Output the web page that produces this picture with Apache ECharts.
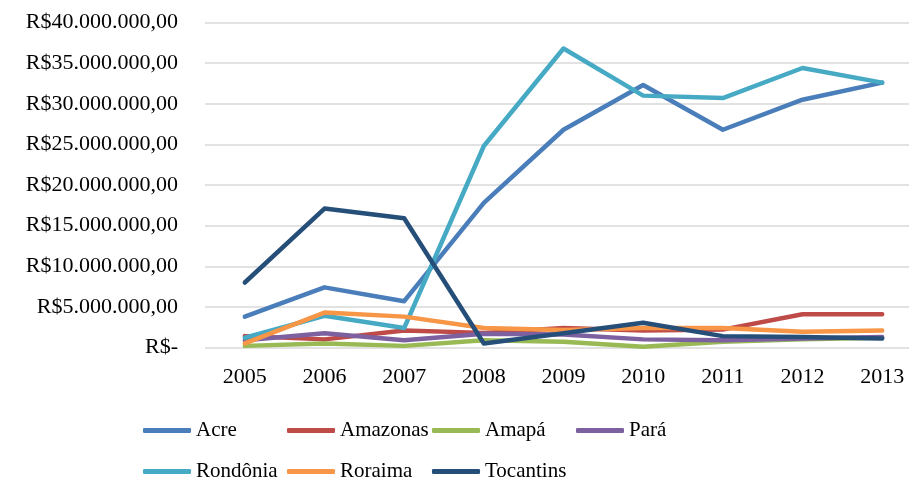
<!DOCTYPE html>
<html>
<head>
<meta charset="utf-8">
<script src="https://cdn.jsdelivr.net/npm/echarts@6/dist/echarts.min.js"></script>
<style>
html,body{margin:0;padding:0;background:#fff;overflow:hidden;}
#main{width:922px;height:479px;}
</style>
</head>
<body>
<div id="main"></div>
<script>
// anos
var years = ['2005','2006','2007','2008','2009','2010','2011','2012','2013'];
// valores em R$
var acre      = [3800000, 7400000, 5700000, 17800000, 26800000, 32300000, 26800000, 30500000, 32600000];
var amazonas  = [1400000, 1000000, 2100000, 1800000, 2400000, 2100000, 2200000, 4100000, 4100000];
var amapa     = [200000, 500000, 200000, 900000, 700000, 100000, 700000, 1000000, 1200000];
var para      = [900000, 1750000, 900000, 1700000, 1600000, 1000000, 900000, 1100000, 1300000];
var rondonia  = [1200000, 3900000, 2400000, 24800000, 36800000, 31000000, 30700000, 34400000, 32600000];
var roraima   = [500000, 4300000, 3800000, 2400000, 2150000, 2400000, 2400000, 1950000, 2100000];
var tocantins = [8000000, 17100000, 15900000, 500000, 1750000, 3050000, 1400000, 1300000, 1100000];

var names = ['Acre','Amazonas','Amapá','Pará','Rondônia','Roraima','Tocantins'];
var values = [acre, amazonas, amapa, para, rondonia, roraima, tocantins];
var colors = ['#4A7EBB','#BE4B48','#98B954','#7D60A0','#46AAC5','#F79646','#254E79'];

var font = '"Liberation Serif", "Times New Roman", serif';

function fmt(v){
    if(v===0) return 'R$-';
    var s = String(Math.round(v)).replace(/\B(?=(\d{3})+(?!\d))/g,'.');
    return 'R$' + s + ',00';
}

// posicoes da legenda
var legendPos = [[143,420],[287,420],[432,420],[576,420],[143,461],[287,461],[432,461]];
var legends = names.map(function(n,i){
    return {
        data:[n],
        left:legendPos[i][0],
        top:legendPos[i][1],
        padding:0,
        icon:'roundRect',
        itemWidth:48,
        itemHeight:5,
        itemGap:0,
        selectedMode:false,
        textStyle:{fontFamily:font,fontSize:21,color:'#000'}
    }
});

var myChart = echarts.init(document.getElementById('main'));
myChart.setOption({
    animation:false,
    color:colors,
    legend:legends,
    grid:{left:205,top:22.5,right:0,height:325},
    xAxis:{
        type:'category',
        data:years,
        boundaryGap:true,
        axisLine:{show:false},
        axisTick:{show:false},
        axisLabel:{fontFamily:font,fontSize:22,color:'#000',margin:19}
    },
    yAxis:{
        type:'value',
        min:0,
        max:40000000,
        interval:5000000,
        axisLine:{show:false},
        axisTick:{show:false},
        splitLine:{lineStyle:{color:'#D9D9D9',width:1.5}},
        axisLabel:{fontFamily:font,fontSize:22,color:'#000',margin:27,formatter:fmt}
    },
    series:names.map(function(n,i){
        return {
            name:n,
            type:'line',
            data:values[i],
            symbol:'none',
            lineStyle:{width:4.5,color:colors[i],cap:'round',join:'round'},
            itemStyle:{color:colors[i]}
        }
    })
});
</script>
</body>
</html>
